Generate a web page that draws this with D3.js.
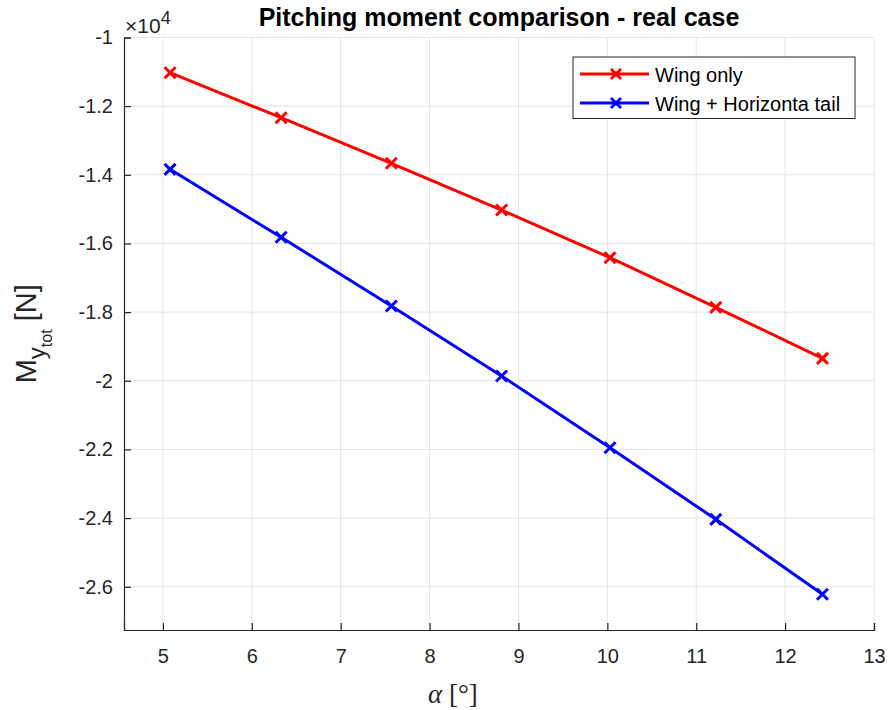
<!DOCTYPE html>
<html>
<head>
<meta charset="utf-8">
<script src="https://cdn.jsdelivr.net/npm/d3@7"></script>
<style>
  body { margin: 0; background: #fff; }
  svg { font-family: "Liberation Sans", Arial, sans-serif; }
</style>
</head>
<body>
<div id="graphic"></div>
<script>
// angle of attack [deg]
const alpha = [5.08, 6.33, 7.57, 8.81, 10.03, 11.22, 12.42];
// total pitching moment [N]
const wingOnly = [-11026, -12336, -13665, -15026, -16415, -17860, -19346];
const wingTail = [-13840, -15820, -17820, -19860, -21950, -24037, -26220];
const seriesNames = ["Wing only", "Wing + Horizonta tail"];
const seriesColours = ["#ff0000", "#0000ff"];
const xTicks = [5, 6, 7, 8, 9, 10, 11, 12, 13];
const yTicks = [-1, -1.2, -1.4, -1.6, -1.8, -2, -2.2, -2.4, -2.6];

const width = 888, height = 710;
const margin = { top: 37.5, right: 14, bottom: 80, left: 124 };
const chartWidth = width - margin.left - margin.right;
const chartHeight = height - margin.top - margin.bottom;

const svg = d3.select('#graphic').append('svg')
  .attr('width', width).attr('height', height);
const g = svg.append('g').attr('transform', `translate(${margin.left},${margin.top})`);

const x = d3.scaleLinear().domain([4.562, 13]).range([0, chartWidth]);
const y = d3.scaleLinear().domain([-2.726, -1]).range([chartHeight, 0]);

// grid
g.append('g').selectAll('line').data(xTicks).join('line')
  .attr('x1', d => x(d)).attr('x2', d => x(d))
  .attr('y1', 0).attr('y2', chartHeight)
  .attr('stroke', '#e4e4e4').attr('stroke-width', 1);
g.append('g').selectAll('line').data(yTicks).join('line')
  .attr('x1', 0).attr('x2', chartWidth)
  .attr('y1', d => y(d)).attr('y2', d => y(d))
  .attr('stroke', '#e4e4e4').attr('stroke-width', 1);

// axes (plain hyphen minus like MATLAB)
const xAxis = d3.axisBottom(x).tickValues(xTicks).tickSize(-7).tickPadding(19)
  .tickFormat(d => String(d));
const yAxis = d3.axisLeft(y).tickValues(yTicks).tickSize(-7).tickPadding(11)
  .tickFormat(d => String(d));

const gx = g.append('g').attr('transform', `translate(0,${chartHeight})`).call(xAxis);
const gy = g.append('g').call(yAxis);
[gx, gy].forEach(a => {
  a.attr('font-size', 20).attr('font-family', '"Liberation Sans", Arial, sans-serif');
  a.select('.domain').attr('stroke', '#262626').attr('stroke-width', 1.2);
  a.selectAll('.tick line').attr('stroke', '#262626').attr('stroke-width', 1.2);
  a.selectAll('.tick text').attr('fill', '#262626');
});

// exponent
g.append('text').attr('x', 1).attr('y', -4.5)
  .attr('fill', '#262626').attr('font-size', 21)
  .html('×10<tspan dy="-9" font-size="18">4</tspan>');

// lines
const data = [wingOnly, wingTail];
const line = d3.line().x((d, i) => x(alpha[i])).y(d => y(d / 1e4));
const marker = (sel, s) => sel.attr('d', `M${-s},${-s}L${s},${s}M${-s},${s}L${s},${-s}`);

data.forEach((vals, k) => {
  g.append('path').datum(vals).attr('d', line)
    .attr('fill', 'none').attr('stroke', seriesColours[k]).attr('stroke-width', 3);
  g.append('g').selectAll('path').data(vals).join('path')
    .attr('transform', (d, i) => `translate(${x(alpha[i])},${y(d / 1e4)})`)
    .call(marker, 5.5)
    .attr('stroke', seriesColours[k]).attr('stroke-width', 3).attr('fill', 'none');
});

// title
svg.append('text').attr('x', margin.left + chartWidth / 2).attr('y', 26)
  .attr('text-anchor', 'middle').attr('font-size', 25).attr('font-weight', 'bold')
  .attr('fill', '#000').text('Pitching moment comparison - real case');

// x label
svg.append('text').attr('x', 428).attr('y', 703)
  .attr('fill', '#262626').attr('font-family', '"Liberation Serif", "DejaVu Serif", serif')
  .attr('font-size', 27)
  .html('<tspan font-style="italic">α</tspan> [°]');

// y label
svg.append('text').attr('transform', `translate(36,${margin.top + chartHeight / 2}) rotate(-90)`)
  .attr('text-anchor', 'middle').attr('fill', '#262626').attr('font-size', 29)
  .html('M<tspan dy="9" font-size="24">y</tspan><tspan dy="7" font-size="16">tot</tspan><tspan dy="-16"> [N]</tspan>');

// legend
const lg = svg.append('g').attr('transform', 'translate(573,57)');
lg.append('rect').attr('width', 282).attr('height', 61.5)
  .attr('fill', '#fff').attr('stroke', '#262626').attr('stroke-width', 1);
seriesNames.forEach((name, k) => {
  const yy = 17 + k * 29;
  lg.append('line').attr('x1', 7).attr('x2', 76).attr('y1', yy).attr('y2', yy)
    .attr('stroke', seriesColours[k]).attr('stroke-width', 3);
  lg.append('path').attr('transform', `translate(43,${yy})`).call(marker, 5)
    .attr('stroke', seriesColours[k]).attr('stroke-width', 3).attr('fill', 'none');
  lg.append('text').attr('x', 82).attr('y', yy + 7.5).attr('font-size', 20)
    .attr('fill', '#000').text(name);
});
</script>
</body>
</html>
